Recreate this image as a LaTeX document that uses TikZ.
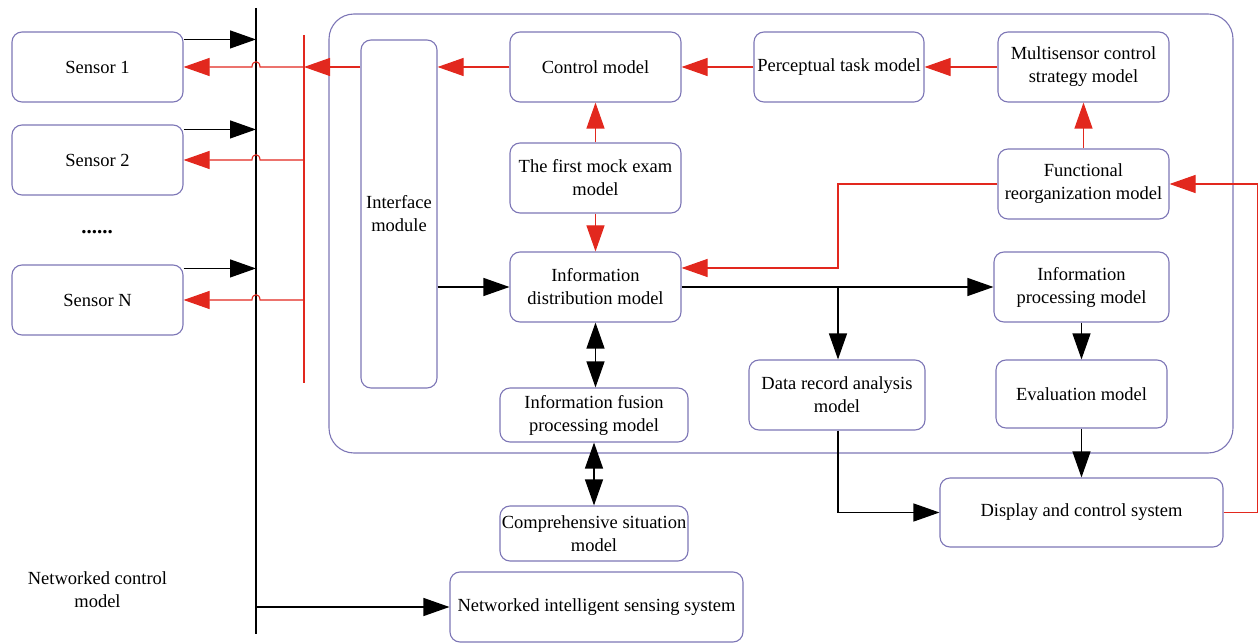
\documentclass[tikz,border=0pt]{standalone}
\usepackage{fontspec}
\setmainfont{Liberation Serif}
\usetikzlibrary{arrows.meta,calc}
\definecolor{boxc}{RGB}{125,118,182}
\definecolor{redc}{RGB}{226,40,30}
\begin{document}
\begin{tikzpicture}[x=1pt,y=-1pt,
  font=\fontsize{18.5}{23}\selectfont,
  box/.style={draw=boxc, line width=1.1pt, rounded corners=10pt, align=center, inner sep=1pt},
  blk/.style={line width=1.2pt, -{Triangle[length=26pt,width=18pt]}},
  dblk/.style={line width=1.2pt, {Triangle[length=26pt,width=18pt]}-{Triangle[length=26pt,width=18pt]}},
  redarr/.style={draw=redc, line width=1.1pt, -{Triangle[length=26pt,width=18pt]}, color=redc},
  redline/.style={draw=redc, line width=1.1pt}]
\useasboundingbox (0,0) rectangle (1259,644);

% container
\node[box, rounded corners=25pt, minimum width=904pt, minimum height=439pt] (cont) at (781,233.5) {};

% sensors
\node[box, minimum width=171pt, minimum height=70pt] (s1) at (97.5,67) {Sensor 1};
\node[box, minimum width=171pt, minimum height=70pt] (s2) at (97.5,160) {Sensor 2};
\node[box, minimum width=171pt, minimum height=70pt] (sN) at (97.5,300) {Sensor N};
\node[font=\fontsize{21}{23}\selectfont\bfseries] (dots) at (97,232) {......};
\node[align=center] (ncm) at (97.5,590) {Networked control\\model};

% modules
\node[box, minimum width=76pt, minimum height=348pt] (iface) at (399,214) {Interface\\module};
\node[box, minimum width=171pt, minimum height=70pt] (ctrl) at (595.5,67) {Control model};
\node[box, minimum width=170pt, minimum height=70pt] (perc) at (839,67) {Perceptual task model};
\node[box, minimum width=171pt, minimum height=70pt] (multi) at (1083.5,67) {Multisensor control\\strategy model};
\node[box, minimum width=171pt, minimum height=70pt] (mock) at (595.5,178) {The first mock exam\\model};
\node[box, minimum width=171pt, minimum height=70pt] (func) at (1083.5,184) {Functional\\reorganization model};
\node[box, minimum width=171pt, minimum height=70pt] (idist) at (595.5,287) {Information\\distribution model};
\node[box, minimum width=175pt, minimum height=70pt] (iproc) at (1081.5,287) {Information\\processing model};
\node[box, minimum width=176pt, minimum height=70pt] (drec) at (837,395) {Data record analysis\\model};
\node[box, minimum width=171pt, minimum height=68pt] (eval) at (1081.5,394) {Evaluation model};
\node[box, minimum width=188pt, minimum height=54pt] (fusion) at (594,415) {Information fusion\\processing model};
\node[box, minimum width=188pt, minimum height=55pt] (comp) at (594,533.5) {Comprehensive situation\\model};
\node[box, minimum width=283pt, minimum height=69pt] (disp) at (1081.5,512.5) {Display and control system};
\node[box, minimum width=293pt, minimum height=70pt] (net) at (596.5,607) {Networked intelligent sensing system};

% bus and red vertical line
\coordinate (busT) at (256,8);
\coordinate (busB) at (256,634);
\draw[line width=1.5pt] (busT) -- (busB);
\coordinate (redT) at (304,35);
\coordinate (redB) at (304,383);
\draw[redline] (redT) -- (redB);

% sensors -> bus
\coordinate (a1) at ($(s1.north east)+(0,8)$);
\coordinate (a2) at ($(s2.north east)+(0,5)$);
\coordinate (a3) at ($(sN.north east)+(0,4)$);
\draw[blk] (a1) -- (a1 -| busT);
\draw[blk] (a2) -- (a2 -| busT);
\draw[blk] (a3) -- (a3 -| busT);

% red line -> sensors (hopping over the bus)
\foreach \s in {s1,s2,sN}{
  \draw[redarr] (redT |- \s.east) -- ($(busT |- \s.east)+(4,0)$) .. controls +(0,-7) and +(0,-7) .. ++(-8,0) -- (\s.east);
}
\draw[redarr] (iface.west |- ctrl.west) -- (redT |- ctrl.west);

% red connectors
\draw[redarr] (ctrl.west) -- (iface.east |- ctrl.west);
\draw[redarr] (perc.west) -- (ctrl.east);
\draw[redarr] (multi.west) -- (perc.east);
\draw[redarr] (mock.north) -- (ctrl.south);
\draw[redarr] (mock.south) -- (idist.north);
\draw[redarr] (func.north) -- (multi.south);
\coordinate (bx) at (838,0);
\coordinate (rj) at ($(idist.east)+(0,-19)$);
\draw[redarr] (func.west) -- (func.west -| bx) -- (rj -| bx) -- (rj);
\draw[redarr] (disp.east) -- ++(34,0) |- (func.east);

% black connectors
\draw[blk] (iface.east |- idist.west) -- (idist.west);
\draw[blk] (idist.east) -- (iproc.west);
\draw[blk] (idist.east -| bx) -- (drec.north -| bx);
\draw[blk] (iproc.south) -- (eval.north);
\draw[blk] (eval.south) -- (disp.north);
\draw[blk] (drec.south -| bx) |- (disp.west);
\draw[dblk] (idist.south) -- (idist.south |- fusion.north);
\draw[dblk] (fusion.south) -- (comp.north);
\draw[blk] (busT |- net.west) -- (net.west);
\end{tikzpicture}
\end{document}
